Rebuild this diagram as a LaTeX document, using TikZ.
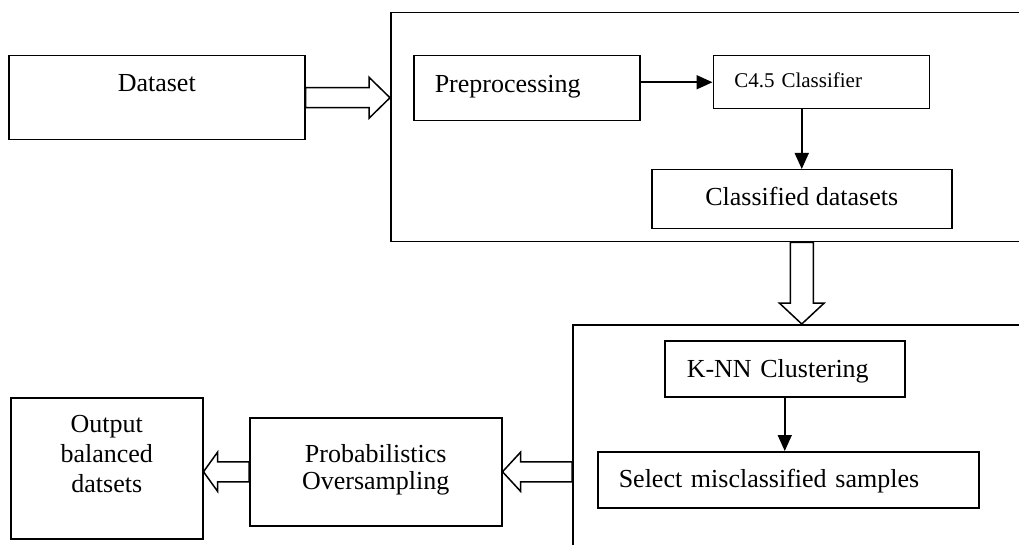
\documentclass[tikz,border=0pt]{standalone}
\usepackage{fontspec}
\setmainfont{Liberation Serif}
\usetikzlibrary{arrows.meta, positioning, calc}
\newcommand{\boxlines}[1]{\begin{tabular}[t]{@{}c@{}}#1\end{tabular}}
\tikzset{
  frame/.style={rectangle, draw, line width=1.5pt, inner sep=0pt},
  box/.style={rectangle, draw, line width=1.5pt, inner sep=0pt, font=\fontsize{26}{30}\selectfont},
  leftbox/.style={box, align=left, inner xsep=21pt},
  arr/.style={-{Triangle[length=16pt, width=14pt]}, line width=1.7pt},
  hollow/.style n args={3}{draw, line width=1.5pt, fill=white, to path={
      let \p1=(\tikztostart), \p2=(\tikztotarget),
          \n1={atan2(\y2-\y1,\x2-\x1)}, \n2={veclen(\x2-\x1,\y2-\y1)} in
      -- ++(\n1+90:#1) -- ++(\n1:\n2-#3) -- ++(\n1+90:#2-#1) -- (\p2)
      -- ($(\p2)+(\n1+180:#3)+(\n1-90:#2)$) -- ++(\n1+90:#2-#1)
      -- ++(\n1+180:\n2-#3) -- cycle}}
}
\begin{document}
\begin{tikzpicture}[x=1pt, y=-1pt]

  \useasboundingbox (0,0) rectangle (1019,545);
  \clip (0,0) rectangle (1019,545);

  % first stage
  \node[box, anchor=north west, minimum width=296pt, text height=36pt, text depth=48pt] (dataset) at (8,55) {Dataset};
  \node[frame, anchor=north west, minimum width=660pt, minimum height=229pt] (stage1) at (390,12) {};
  \node[leftbox, below right=43pt and 23pt of stage1.north west, text width=184pt,
        text height=37pt, text depth=28pt] (preproc) {Preprocessing};
  \node[leftbox, right=72pt of preproc.north east, anchor=north west, font=\fontsize{21}{24}\selectfont,
        text width=174pt, text height=32pt, text depth=21pt] (c45) {C4.5 Classifier};
  \node[box, anchor=north west, minimum width=300pt, text height=36pt, text depth=23pt] (classified) at (651,169) {Classified datasets};

  % second stage
  \node[frame, anchor=north west, minimum width=480pt, minimum height=260pt] (stage2) at (572,324) {};
  \node[leftbox, below right=16pt and 92pt of stage2.north west, inner xsep=22pt, text width=196pt,
        text height=37pt, text depth=19pt] (knn) {K-NN Clustering};
  \node[leftbox, below right=127pt and 25pt of stage2.north west, text width=339pt,
        text height=36pt, text depth=20pt] (select) {Select misclassified samples};

  % output side
  \node[box, anchor=north west, minimum width=252pt, font=\fontsize{26}{27}\selectfont,
        text height=45pt, text depth=63pt] (prob) at (249,417) {\boxlines{Probabilistics\\Oversampling}};
  \node[box, anchor=north west, minimum width=192pt, text height=35pt, text depth=106pt] (output) at (10,397) {\boxlines{Output\\balanced\\datsets}};

  \draw[arr] (preproc.east |- c45.west) -- (c45.west);
  \draw[arr] (classified.north |- c45.south) -- (classified.north);
  \draw[arr] (knn.south) -- (knn.south |- select.north);

  \coordinate (in1) at (dataset.east -| stage1.west);
  \coordinate (out1) at (classified.south |- stage1.south);
  \coordinate (in2) at (classified.south |- stage2.north);
  \coordinate (out2) at (prob.east -| stage2.west);
  \coordinate (in3) at (prob.west -| output.east);

  \draw[hollow={10pt}{20.5pt}{21pt}] (dataset.east) to (in1);
  \draw[hollow={11.5pt}{22.5pt}{21pt}] (out1) to (in2);
  \draw[hollow={10pt}{19.5pt}{18pt}] (out2) to (prob.east);
  \draw[hollow={10pt}{19.5pt}{14pt}] (prob.west) to (in3);

\end{tikzpicture}
\end{document}
